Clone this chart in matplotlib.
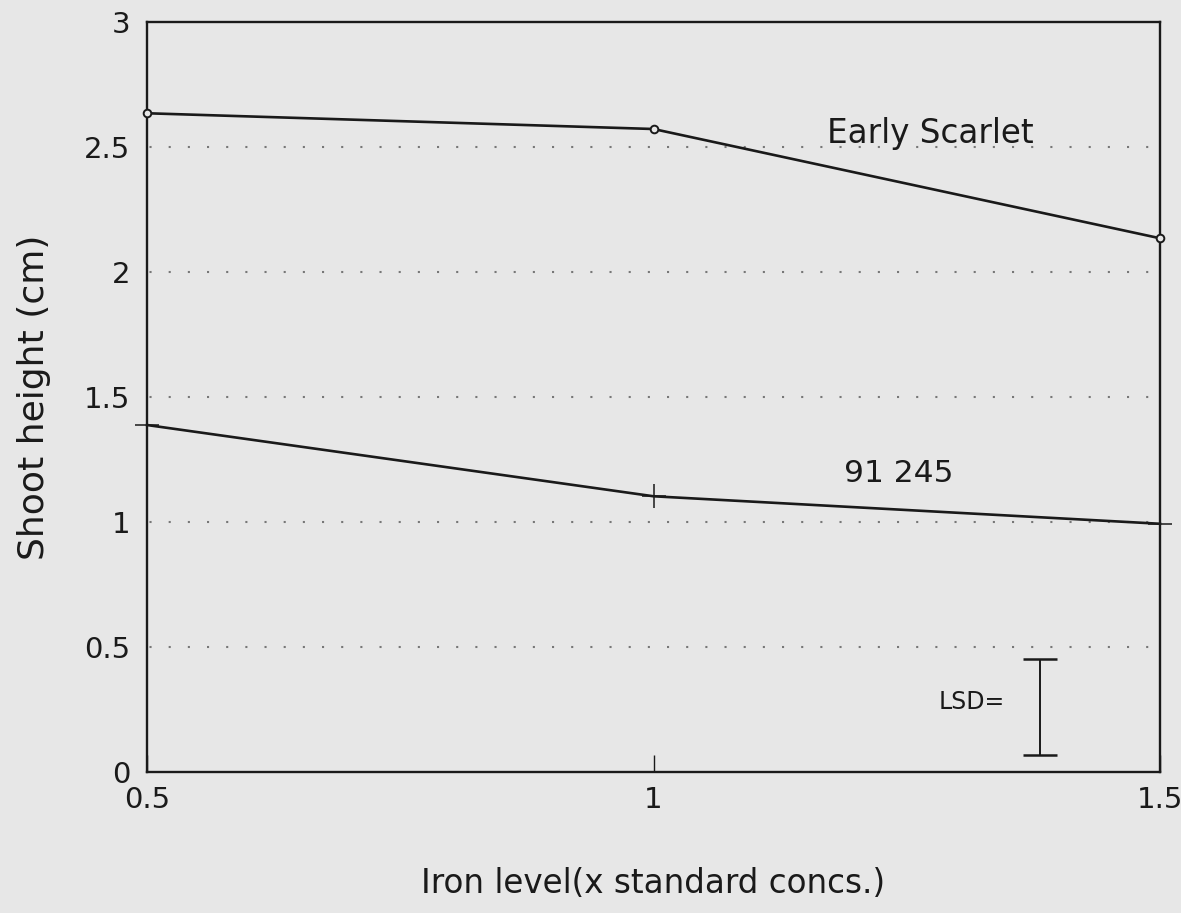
import matplotlib
matplotlib.use("Agg")
import matplotlib.pyplot as plt

# iron level (x standard concs.)
iron = [0.5, 1.0, 1.5]
# shoot height (cm)
early_scarlet = [2.635, 2.572, 2.135]
line_91245 = [1.388, 1.103, 0.993]

# LSD bar (x position, bottom, top)
lsd_x = 1.382
lsd_lo = 0.068
lsd_hi = 0.453

yticks = [0, 0.5, 1, 1.5, 2, 2.5, 3]
ytick_labels = ["0", "0.5", "1", "1.5", "2", "2.5", "3"]
xticks = [0.5, 1, 1.5]
xtick_labels = ["0.5", "1", "1.5"]

bg = "#e7e7e7"
ink = "#1a1a1a"

plt.rcParams["font.family"] = "DejaVu Sans"

fig = plt.figure(figsize=(11.81, 9.13), dpi=100, facecolor=bg)
ax = fig.add_axes([0.1245, 0.1544, 0.9822 - 0.1245, 0.9759 - 0.1544])
ax.set_facecolor(bg)

# dotted horizontal grid
for y in yticks[1:-1]:
    ax.axhline(y, color="#777777", lw=1.5, linestyle=(8, (1, 8.2)), zorder=1)

ax.plot(iron, early_scarlet, color=ink, lw=1.9, marker="o", ms=5.5,
        mfc=bg, mec=ink, mew=1.4, clip_on=False, zorder=3)
ax.plot(iron, line_91245, color=ink, lw=1.9, marker="+", ms=17,
        mew=1.1, clip_on=False, zorder=3)

# LSD bar
mid = (lsd_lo + lsd_hi) / 2
ax.errorbar([lsd_x], [mid], yerr=[[mid - lsd_lo], [lsd_hi - mid]], fmt="none",
            ecolor=ink, elinewidth=1.4, capsize=12.5, capthick=1.8, zorder=3)
ax.text(lsd_x - 0.035, 0.282, "LSD=", fontsize=17, color=ink,
        ha="right", va="center")

ax.text(1.273, 2.556, "Early Scarlet", fontsize=23.5, color=ink,
        ha="center", va="center")
ax.text(1.242, 1.194, "91 245", fontsize=22.5, color=ink,
        ha="center", va="center")

ax.set_xlim(0.5, 1.5)
ax.set_ylim(0, 3)
ax.set_xticks(xticks)
ax.set_xticklabels(xtick_labels)
ax.set_yticks(yticks)
ax.set_yticklabels(ytick_labels)
ax.tick_params(axis="x", direction="in", length=12, width=1, pad=10,
               labelsize=21, colors=ink, top=False)
ax.tick_params(axis="y", length=0, pad=12, labelsize=21, colors=ink)

for s in ax.spines.values():
    s.set_linewidth(1.7)
    s.set_color(ink)

ax.set_xlabel("Iron level(x standard concs.)", fontsize=23.5, color=ink,
              labelpad=38)
ax.set_ylabel("Shoot height (cm)", fontsize=26, color=ink, labelpad=24)

fig.savefig("out.png", dpi=100, facecolor=bg)
